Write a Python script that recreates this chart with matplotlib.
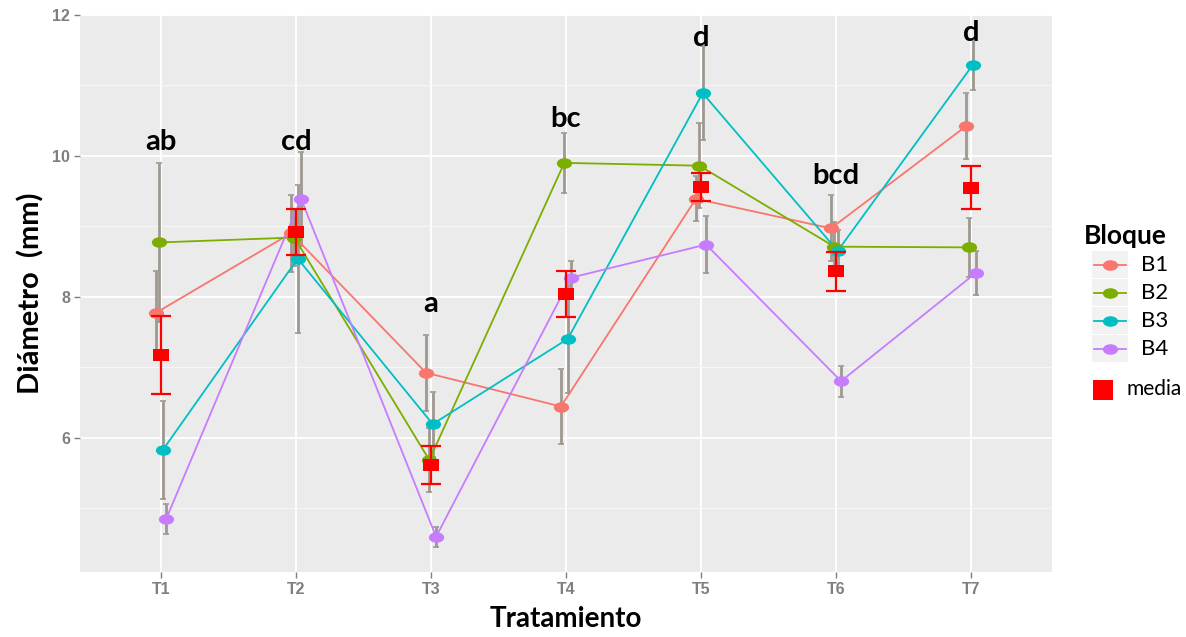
import numpy as np
import matplotlib
matplotlib.use("Agg")
import matplotlib.pyplot as plt
from matplotlib.path import Path
from matplotlib.patches import Rectangle

# ---------------- data ----------------
treatments = ["T1", "T2", "T3", "T4", "T5", "T6", "T7"]
blocks = ["B1", "B2", "B3", "B4"]
b1 = [7.77, 8.90, 6.92, 6.44, 9.39, 8.97, 10.42]
b2 = [8.77, 8.84, 5.68, 9.90, 9.86, 8.71, 8.70]
b3 = [5.82, 8.54, 6.19, 7.40, 10.89, 8.65, 11.29]
b4 = [4.84, 9.39, 4.59, 8.27, 8.74, 6.80, 8.34]
b1_err = [0.59, 0.55, 0.54, 0.53, 0.32, 0.47, 0.47]
b2_err = [1.13, 0.40, 0.45, 0.43, 0.60, 0.35, 0.42]
b3_err = [0.70, 1.05, 0.46, 0.77, 0.67, 0.30, 0.35]
b4_err = [0.21, 0.67, 0.14, 0.24, 0.41, 0.22, 0.31]
media = [7.17, 8.92, 5.61, 8.04, 9.56, 8.36, 9.55]
media_err = [0.55, 0.33, 0.27, 0.33, 0.20, 0.28, 0.31]
letters = ["ab", "cd", "a", "bc", "d", "bcd", "d"]
letter_y = [10.20, 10.20, 7.89, 10.52, 11.68, 9.72, 11.75]

series = [b1, b2, b3, b4]
errors = [b1_err, b2_err, b3_err, b4_err]
colors = ["#F8766D", "#7CAE00", "#00BFC4", "#C77CFF"]
media_color = "#FF0000"
err_color = "#9E9890"

# ---------------- style ----------------
title_font = ["Lato", "DejaVu Sans"]
tick_font = ["Liberation Sans", "DejaVu Sans"]

circ = Path.unit_circle()
ellipse = Path(circ.vertices * np.array([1.45, 1.0]), circ.codes)
sq = Path([(-1.3, -1), (1.3, -1), (1.3, 1), (-1.3, 1), (-1.3, -1)],
          [Path.MOVETO, Path.LINETO, Path.LINETO, Path.LINETO, Path.CLOSEPOLY])

W, H = 1186, 637
fig = plt.figure(figsize=(W / 100, H / 100), dpi=100)
fig.patch.set_facecolor("white")

px_left, px_right, px_top, px_bottom = 80, 1052, 15, 572
ax = fig.add_axes([px_left / W, 1 - px_bottom / H,
                   (px_right - px_left) / W, (px_bottom - px_top) / H])
ax.set_facecolor("#EBEBEB")
for s in ax.spines.values():
    s.set_visible(False)

x = np.arange(1, len(treatments) + 1)
ax.set_xlim(0.4, 7.6)
ax.set_ylim(4.09, 12.0)
ax.set_xticks(x)
ax.set_xticklabels(treatments)
ax.set_yticks([6, 8, 10, 12])
ax.set_yticks([5, 7, 9, 11], minor=True)
ax.grid(True, which="major", color="white", linewidth=1.3)
ax.grid(True, which="minor", axis="y", color="#F7F7F7", linewidth=0.7)
ax.set_axisbelow(True)
ax.tick_params(axis="both", which="major", length=4, width=1, color="#7F7F7F",
               labelcolor="#7F7F7F", labelsize=11.5, pad=3)
ax.tick_params(axis="y", which="minor", length=0)
for lab in ax.get_xticklabels() + ax.get_yticklabels():
    lab.set_family(tick_font)
    lab.set_fontweight("bold")

dodge = [-0.0375, -0.0125, 0.0125, 0.0375]
for vals, errs, col, d in zip(series, errors, colors, dodge):
    xs = x + d
    ax.errorbar(xs, vals, yerr=errs, fmt="none", ecolor=err_color,
                elinewidth=2.0, capsize=2, capthick=1.2, zorder=2)
    ax.plot(xs, vals, color=col, linewidth=1.3, zorder=3)
    ax.plot(xs, vals, linestyle="none", marker=ellipse, markersize=11,
            color=col, markeredgewidth=0, zorder=4)

ax.errorbar(x, media, yerr=media_err, fmt="none", ecolor=media_color,
            elinewidth=1.6, capsize=7, capthick=1.6, zorder=5)
ax.plot(x, media, linestyle="none", marker=sq, markersize=12,
        color=media_color, markeredgewidth=0, zorder=6)

for xi, lab, yy in zip(x, letters, letter_y):
    ax.text(xi, yy, lab, ha="center", va="center", fontsize=21,
            fontweight="bold", family=title_font, color="black", zorder=7)

ax.set_xlabel("Tratamiento", fontsize=20, fontweight="bold",
              family=title_font, labelpad=7)
ax.set_ylabel("Diámetro  (mm)", fontsize=21, fontweight="bold",
              family=title_font, labelpad=6)

# ---------------- legend (drawn in pixel coordinates) ----------------
lax = fig.add_axes([0, 0, 1, 1])
lax.set_xlim(0, W)
lax.set_ylim(H, 0)
lax.axis("off")
lax.patch.set_alpha(0)

lax.text(1084, 236, "Bloque", fontsize=19, fontweight="bold",
         family=title_font, va="center", ha="left")
key_x0, key_x1 = 1092, 1128
key_y0, key_h = 251, 28
for i, (name, col) in enumerate(zip(blocks, colors)):
    yc = key_y0 + key_h * (i + 0.5)
    lax.add_patch(Rectangle((key_x0, key_y0 + key_h * i), key_x1 - key_x0,
                            key_h - 1, facecolor="#F2F2F2", edgecolor="none"))
    lax.plot([key_x0 + 2, key_x1 - 2], [yc, yc], color=col, linewidth=1.3)
    lax.plot([(key_x0 + key_x1) / 2], [yc], marker=ellipse, markersize=11,
             color=col, markeredgewidth=0, linestyle="none")
    lax.text(1141, yc, name, fontsize=16, family=title_font,
             va="center", ha="left")

lax.add_patch(Rectangle((1093, 380), 20, 20, facecolor=media_color,
                        edgecolor="none"))
lax.text(1127, 389, "media", fontsize=15, family=title_font,
         va="center", ha="left")

fig.savefig("out.png", dpi=100, facecolor="white")
